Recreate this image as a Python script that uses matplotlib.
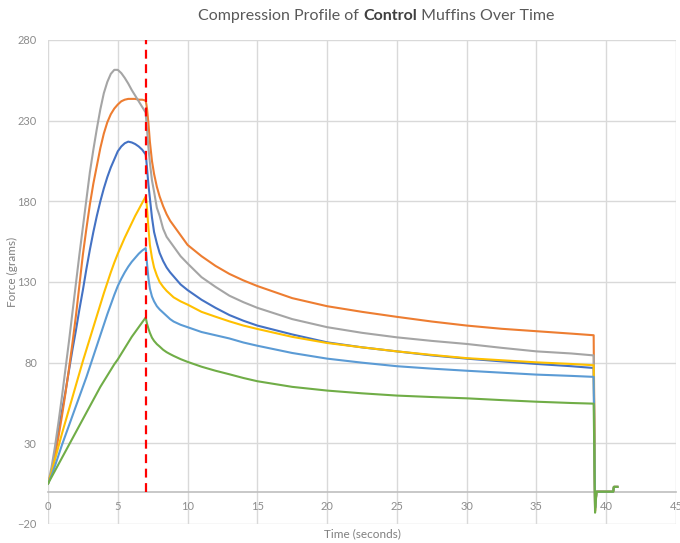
import numpy as np
import matplotlib
matplotlib.use('Agg')
import matplotlib.pyplot as plt

# time (s), shared by all six samples
time_s = [0, 0.25, 0.5, 0.75, 1, 1.25, 1.5, 1.75, 2, 2.25, 2.5, 2.75, 3, 3.25, 3.5,
          3.75, 4, 4.25, 4.5, 4.75, 5, 5.25, 5.5, 5.75, 6, 6.25, 6.5, 6.75, 7,
          7.05, 7.1, 7.2, 7.3, 7.45, 7.6, 7.8, 8, 8.25, 8.5, 8.75, 9, 9.5, 10,
          11, 12, 13, 14, 15, 17.5, 20, 22.5, 25, 27.5, 30, 32.5, 35, 37.5,
          39.1, 39.2, 39.3, 40.5, 40.55, 40.8]

# force (grams) for each muffin
blue = [5, 12, 24, 37, 50, 62, 75, 88, 100, 113, 125, 138, 150, 161, 171,
        180, 188, 195, 201, 206, 211, 214, 216, 217, 216.5, 215.5, 214, 212, 209,
        205, 200, 190, 182, 170, 161, 154, 148, 143, 139, 136, 133.5, 128.5, 125,
        119, 114, 109.5, 106, 103, 97.5, 92.6, 89.5, 87, 84.5, 82.5, 80.8, 79.2, 77.8,
        76.7, -10, 0, 0, 3, 3]
orange = [5, 12, 22, 34, 47, 61, 76, 92, 109, 128, 147, 163, 178, 191, 202,
          213, 222, 229, 234, 237.5, 240, 242, 243, 243.5, 243.5, 243.5, 243, 243, 242.5,
          240, 237, 228, 217, 205, 197, 189, 183, 177, 172, 168, 165, 159, 153,
          146, 140, 135, 131, 127.5, 120, 115, 111.5, 108.4, 105.5, 103, 101, 99.5, 98,
          97, -12, 0, 0, 3, 3]
gray = [5, 15, 28, 43, 59, 76, 93, 111, 129, 147, 164, 181, 198, 212, 225,
        237, 247, 254, 259, 261.5, 261.5, 259.5, 256.5, 253, 249, 245.5, 242, 238.5, 235,
        229, 224, 213, 204, 193, 186, 176, 171, 163, 158, 155, 152, 146, 141.5,
        133, 127, 121.5, 117.5, 114, 107, 102, 98.5, 95.7, 93.5, 91.6, 89.2, 87, 85.7,
        84.5, -10, 0, 0, 3, 3]
yellow = [5, 12, 20, 28, 36, 43.5, 51, 58.5, 66, 73.5, 81, 88, 95, 102, 109,
          116, 123, 129.5, 136, 142, 147.5, 152.5, 157.5, 162, 166.5, 171, 175, 179, 183,
          180, 175, 163, 153, 145, 139, 134, 130, 127, 124.5, 122.5, 120.5, 118, 116,
          111.5, 108.5, 105.6, 103, 100.9, 96, 92.2, 89.5, 87, 84.8, 82.8, 81.5, 80.2, 79.2,
          78.4, -9, 0, 0, 3, 3]
lightblue = [5, 10, 16, 22.5, 29, 35, 41, 47, 53, 59, 65, 71, 77.5, 84, 90.5,
             97, 103.5, 110, 116, 122, 127.5, 132, 136, 139.5, 142.5, 145, 147.5, 149.5, 151,
             146, 141, 132, 126, 121, 118, 115, 113, 111, 109, 107, 105.5, 103.5, 102,
             99, 97, 95, 92.5, 90.5, 86, 82.5, 80, 77.8, 76.3, 75, 73.8, 72.6, 71.8,
             71.2, -10, 0, 0, 3, 3]
green = [5, 9, 13, 17, 21, 25, 29, 33, 37, 41, 45, 49, 53, 57, 61,
         65, 68.5, 72, 75.5, 79, 82, 85.5, 89, 92.5, 96, 99, 102, 105, 108,
         106, 104, 101, 98.5, 95.5, 93.5, 91.5, 90, 88, 86.5, 85.3, 84.2, 82.2, 80.5,
         77.5, 75, 72.8, 70.5, 68.5, 65, 62.7, 61, 59.6, 58.7, 57.9, 56.8, 55.8, 55,
         54.6, -13, 0, 0, 3, 3]

series = [blue, orange, gray, yellow, lightblue, green]
colors = ['#4472C4', '#ED7D31', '#A5A5A5', '#FFC000', '#5B9BD5', '#70AD47']

cutoff = 7
x_ticks = list(range(0, 50, 5))
y_ticks = [-20, 30, 80, 130, 180, 230, 280]

plt.rcParams['font.family'] = ['Lato', 'DejaVu Sans']

fig = plt.figure(figsize=(6.8, 5.43), dpi=100)
ax = fig.add_axes([48/680, 19/543, 628/680, 484/543])

for vals, c in zip(series, colors):
    ax.plot(time_s, vals, color=c, lw=1.5, zorder=3)

ax.vlines(cutoff, 0, 280, colors='#FF0000', linestyles=(0, (4, 2.5)), lw=1.6, zorder=4)

ax.set_xlim(0, 45)
ax.set_ylim(-20, 280)
ax.set_xticks(x_ticks)
ax.set_yticks(y_ticks)
ax.grid(True, color='#D9D9D9', lw=1, zorder=0)
ax.set_axisbelow(True)

for s in ['top', 'right', 'left']:
    ax.spines[s].set_visible(False)
ax.spines['bottom'].set_position(('data', 0))
ax.spines['bottom'].set_color('#BFBFBF')
ax.spines['bottom'].set_linewidth(1.2)

ax.tick_params(length=0, labelsize=8, labelcolor='#8C8C8C')
ax.tick_params(axis='x', pad=7)
ax.tick_params(axis='y', pad=8)

fig.text(362/680, 1 - 534/543, 'Time (seconds)', ha='center', va='center',
         fontsize=8.5, color='#7F7F7F')
fig.text(12/680, 0.5, 'Force (grams)', ha='center', va='center', rotation=90,
         fontsize=8.5, color='#7F7F7F')

# title with the bold word in the middle
t1 = fig.text(198/680, 1 - 16/543, 'Compression Profile of ', ha='left', va='center',
              fontsize=11.5, color='#595959')
t2 = ax.annotate('Control', xycoords=t1, xy=(1, 0), va='bottom', ha='left',
                 fontsize=11.5, color='#404040', fontweight='bold')
ax.annotate(' Muffins Over Time', xycoords=t2, xy=(1, 0), va='bottom', ha='left',
            fontsize=11.5, color='#595959')

fig.savefig('out.png', dpi=100)
